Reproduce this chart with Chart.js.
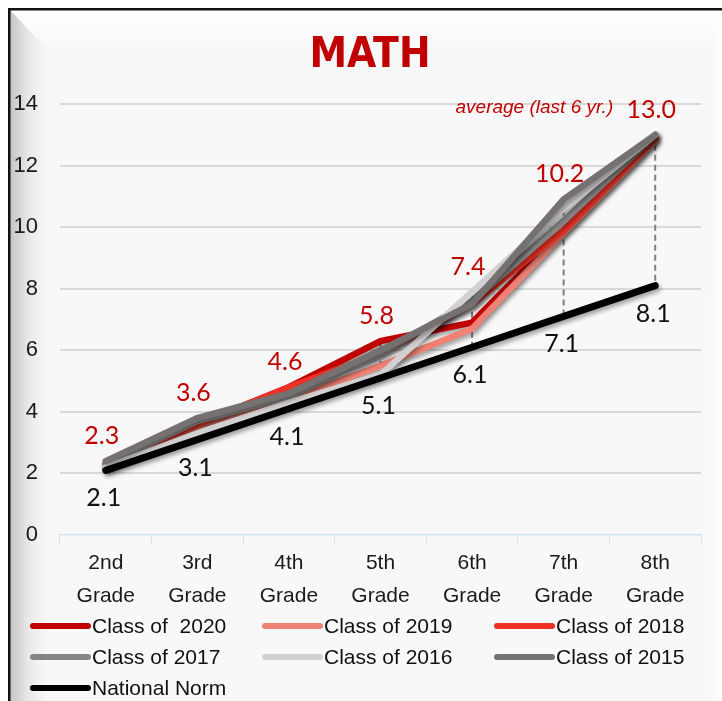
<!DOCTYPE html>
<html>
<head>
<meta charset="utf-8">
<script src="https://cdn.jsdelivr.net/npm/chart.js@4/dist/chart.umd.min.js"></script>
<style>
html,body{margin:0;padding:0;background:#fff;}
#wrap{width:722px;height:701px;position:relative;}
</style>
</head>
<body>
<div id="wrap"><canvas id="c" width="722" height="701"></canvas></div>
<script>
// ---- data ----
const categories = [["2nd","Grade"],["3rd","Grade"],["4th","Grade"],["5th","Grade"],["6th","Grade"],["7th","Grade"],["8th","Grade"]];
const class2020 = [2.3, 3.6, 4.8, 6.3, 6.9, 9.9, 12.9];
const class2019 = [2.2, 3.5, 4.4, 5.5, 6.7, 9.8, 12.8];
const class2018 = [2.3, 3.6, 4.8, 5.9, 7.5, 9.9, 12.9];
const class2017 = [2.3, 3.7, 4.5, 5.9, 7.6, 10.2, 13.0];
const class2016 = [2.2, 3.3, 4.3, 5.2, 7.9, 10.6, 13.0];
const class2015 = [2.4, 3.8, 4.6, 6.0, 7.5, 10.9, 13.0];
const nationalNorm = [2.1, 3.1, 4.1, 5.1, 6.1, 7.1, 8.1];
const averageLabels = [2.3, 3.6, 4.6, 5.8, 7.4, 10.2, 13.0];
const seriesNames = ["Class of  2020","Class of 2019","Class of 2018","Class of 2017","Class of 2016","Class of 2015","National Norm"];
const averageNote = "average (last 6 yr.)";
const titleText = "MATH";

const classSeries = [class2020, class2019, class2018, class2017, class2016, class2015];
const colors = ["#C00000","#EF8275","#EE3124","#858585","#D2D0D0","#767171","#000000"];

const SANS = "'Liberation Sans', Arial, sans-serif";
const NARROW = "'Liberation Sans Narrow', 'DejaVu Sans Condensed', sans-serif";
const LABELF = "Lato, 'Liberation Sans', sans-serif";

const datasets = classSeries.map((d, i) => ({
  label: seriesNames[i], data: d, borderColor: colors[i], backgroundColor: colors[i],
  borderWidth: 6.5, pointRadius: 0, tension: 0, fill: false, order: classSeries.length - i,
  borderJoinStyle: 'miter', borderCapStyle: 'round'
}));
datasets.push({
  label: seriesNames[6], data: nationalNorm, borderColor: colors[6], backgroundColor: colors[6],
  borderWidth: 7, pointRadius: 0, tension: 0, fill: false, order: 0,
  borderJoinStyle: 'miter', borderCapStyle: 'round'
});

const framePlugin = {
  id: 'frame',
  beforeDraw(chart) {
    const c = chart.ctx, W = chart.width, H = chart.height;
    c.save();
    c.fillStyle = '#fff'; c.fillRect(0, 0, W, H);
    c.fillStyle = '#F8F8F8'; c.fillRect(10, 10, W - 10, H - 10);
    let g = c.createLinearGradient(0, 10, 0, 48);
    g.addColorStop(0, '#FFFFFF'); g.addColorStop(1, '#F8F8F8');
    c.fillStyle = g; c.beginPath(); c.moveTo(10, 10); c.lineTo(W, 10); c.lineTo(W - 10, 48); c.lineTo(46, 48); c.closePath(); c.fill();
    g = c.createLinearGradient(10, 0, 46, 0);
    g.addColorStop(0, '#C4C4C4'); g.addColorStop(0.5, '#E8E8E8'); g.addColorStop(1, '#F8F8F8');
    c.fillStyle = g; c.beginPath(); c.moveTo(10, 10); c.lineTo(46, 48); c.lineTo(46, H); c.lineTo(10, H); c.closePath(); c.fill();
    g = c.createLinearGradient(W - 14, 0, W, 0);
    g.addColorStop(0, '#F8F8F8'); g.addColorStop(1, '#FFFFFF');
    c.fillStyle = g; c.beginPath(); c.moveTo(W - 10, 48); c.lineTo(W, 10); c.lineTo(W, H); c.lineTo(W - 14, H); c.closePath(); c.fill();
    c.fillStyle = '#111';
    c.fillRect(8, 8, W - 8, 2.5);
    c.fillRect(8, 8, 2.5, H - 8);
    c.fillStyle = '#C00000'; c.textAlign = 'center'; c.textBaseline = 'middle';
    c.font = 'bold 42px ' + NARROW;
    c.fillText(titleText, 370, 56);
    c.restore();
  },
  beforeDatasetsDraw(chart) {
    const c = chart.ctx, xs = chart.scales.x, ys = chart.scales.y;
    c.save();
    c.strokeStyle = '#7F7F7F'; c.lineWidth = 2; c.setLineDash([6, 4]);
    categories.forEach((_, i) => {
      const hi = Math.max(...classSeries.map(s => s[i]));
      const x = xs.getPixelForValue(i);
      c.beginPath(); c.moveTo(x, ys.getPixelForValue(hi)); c.lineTo(x, ys.getPixelForValue(nationalNorm[i])); c.stroke();
    });
    c.restore();
    c.save();
    c.shadowColor = 'rgba(0,0,0,0.35)'; c.shadowBlur = 4; c.shadowOffsetX = 2; c.shadowOffsetY = 3;
  },
  afterDatasetsDraw(chart) {
    const c = chart.ctx, xs = chart.scales.x, ys = chart.scales.y;
    c.restore();
    c.save();
    c.textAlign = 'center'; c.textBaseline = 'middle';
    c.font = '25px ' + LABELF;
    let lastX = 0, lastY = 0;
    categories.forEach((_, i) => {
      const x = xs.getPixelForValue(i) - 4;
      const hi = Math.max(...classSeries.map(s => s[i]));
      const yA = ys.getPixelForValue(hi) - 25;
      c.fillStyle = '#C00000';
      c.fillText(averageLabels[i].toFixed(1), x, yA);
      c.fillStyle = '#111';
      c.fillText(nationalNorm[i].toFixed(1), x + 2, ys.getPixelForValue(nationalNorm[i]) + 28);
      lastX = x; lastY = yA;
    });
    c.font = 'italic 19px ' + SANS;
    c.fillStyle = '#C00000'; c.textAlign = 'right';
    c.fillText(averageNote, lastX - 38, lastY - 2);
    c.restore();
  },
  afterDraw(chart) {
    const c = chart.ctx;
    c.save();
    c.textBaseline = 'middle'; c.textAlign = 'left';
    c.font = '21px ' + SANS;
    chart.data.datasets.forEach((ds, i) => {
      const col = i % 3, row = Math.floor(i / 3);
      const x0 = 33 + col * 232, y = 626 + row * 31;
      c.strokeStyle = ds.borderColor; c.lineWidth = 6; c.lineCap = 'round';
      c.beginPath(); c.moveTo(x0, y); c.lineTo(x0 + 55, y); c.stroke();
      c.fillStyle = '#111';
      c.fillText(ds.label, x0 + 59, y + 1);
    });
    c.restore();
  }
};

new Chart(document.getElementById('c'), {
  type: 'line',
  data: { labels: categories, datasets },
  options: {
    responsive: false, animation: false, devicePixelRatio: 1,
    layout: { padding: { left: 0, right: 21, top: 104, bottom: 86 } },
    plugins: {
      legend: { display: false },
      tooltip: { enabled: false },
      title: { display: false }
    },
    scales: {
      x: {
        offset: true,
        grid: { display: true, drawOnChartArea: false, drawTicks: true, tickLength: 8, color: '#CDE5EC', offset: true },
        border: { display: true, color: '#CDE5EC', width: 1.5 },
        ticks: { font: { family: SANS, size: 21, lineHeight: 1.6 }, color: '#1a1a1a', padding: 3, maxRotation: 0, autoSkip: false },
        afterFit(s) { s.height = 80; }
      },
      y: {
        min: 0, max: 14,
        ticks: { stepSize: 2, padding: 22, font: { family: SANS, size: 22 }, color: '#1a1a1a' },
        grid: { color: (ctx) => ctx.tick && ctx.tick.value === 0 ? 'rgba(0,0,0,0)' : '#D9D9D9', lineWidth: 2, drawTicks: false },
        border: { display: false },
        afterFit(s) { s.width = 60; }
      }
    }
  },
  plugins: [framePlugin]
});
</script>
</body>
</html>
